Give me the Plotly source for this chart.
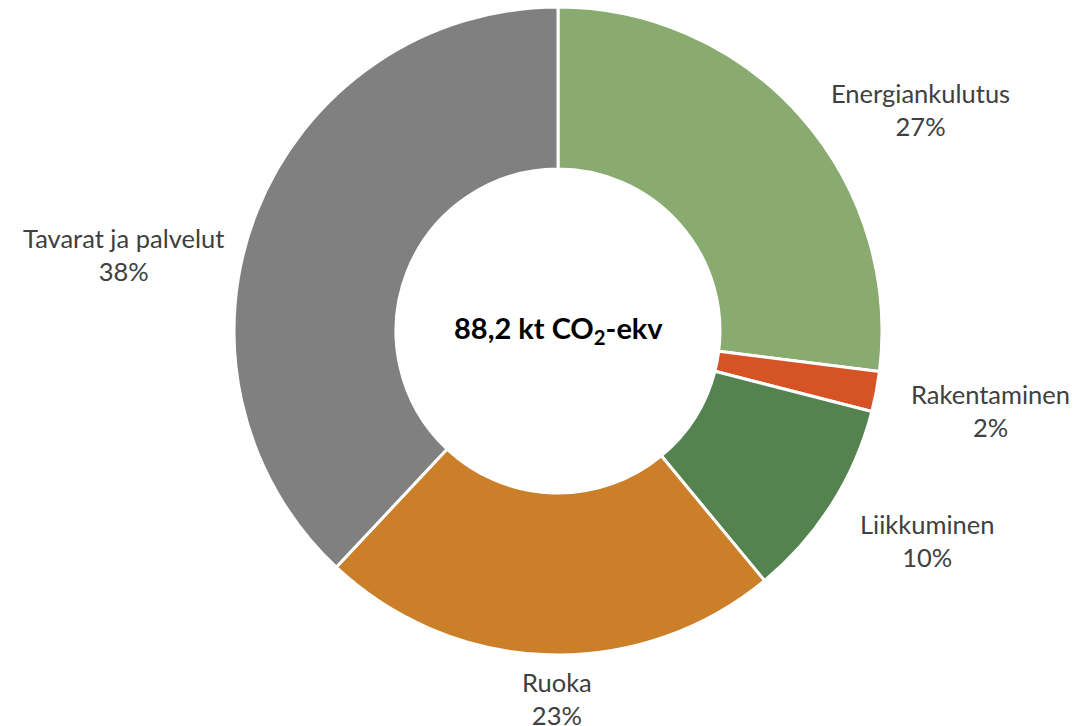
import plotly.graph_objects as go

categories = ["Energiankulutus", "Rakentaminen", "Liikkuminen", "Ruoka", "Tavarat ja palvelut"]
values = [27, 2, 10, 23, 38]
colors = ["#8AAB6F", "#D65326", "#548350", "#CA7F28", "#808080"]
center_label = "88,2 kt CO<sub>2</sub>-ekv"

W, H = 1092, 726
cx, cy, r = 558, 331, 324  # pixel geometry of the donut

# label text-box centres (pixels) for the outside labels
label_pos = [(920, 109), (990, 410), (927, 540), (557, 698), (123, 254)]

fig = go.Figure()
fig.add_trace(go.Pie(
    labels=categories,
    values=values,
    hole=0.5,
    sort=False,
    direction="clockwise",
    rotation=0,
    marker=dict(colors=colors, line=dict(color="white", width=3)),
    textinfo="none",
    hoverinfo="label+percent",
    showlegend=False,
    domain=dict(x=[(cx - r) / W, (cx + r) / W], y=[(H - cy - r) / H, (H - cy + r) / H]),
))

total = sum(values)
annotations = []
for cat, v, (px, py) in zip(categories, values, label_pos):
    annotations.append(dict(
        x=px / W, y=(H - py) / H, xref="paper", yref="paper",
        text=f"{cat}<br>{v / total * 100:.0f}%",
        showarrow=False, xanchor="center", yanchor="middle",
        font=dict(family="Lato", size=25.5, color="#404040"),
        align="center",
    ))
annotations.append(dict(
    x=cx / W, y=(H - cy + 2) / H, xref="paper", yref="paper",
    text=f"<b>{center_label}</b>", showarrow=False,
    xanchor="center", yanchor="middle",
    font=dict(family="Lato", size=29, color="#000000"),
))

fig.update_layout(
    width=W, height=H,
    margin=dict(l=0, r=0, t=0, b=0),
    paper_bgcolor="white", plot_bgcolor="white",
    annotations=annotations,
)

fig.write_html(
    "out.html",
    config={"displayModeBar": False},
    post_script="document.body.style.margin='0';document.body.style.overflow='hidden';",
)
